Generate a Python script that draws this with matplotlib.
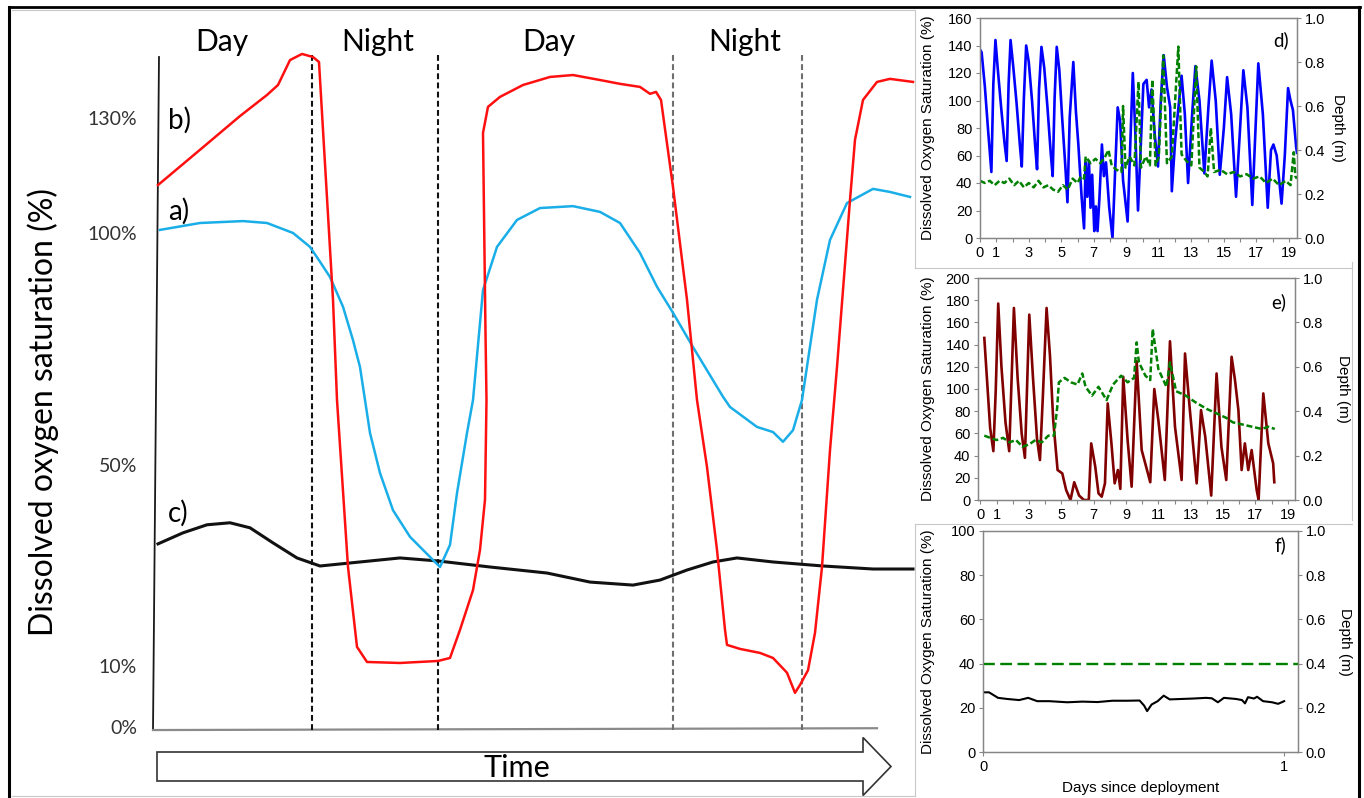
import numpy as np
import matplotlib
matplotlib.use('Agg')
import matplotlib.pyplot as plt
from matplotlib.lines import Line2D
from matplotlib.patches import FancyArrow
from matplotlib.ticker import FormatStrFormatter

W, H = 1364, 798
plt.rcParams['font.family'] = ['Liberation Sans', 'DejaVu Sans']
SKETCH_FONT = ['Lato', 'DejaVu Sans']
SPINE = '#868686'

# ---------------- schematic (left) ----------------
# time in arbitrary units, values in % saturation (hand-drawn schematic)
red_t = [0.0, 4.2, 8.2, 10.9, 12.0, 13.2, 14.4, 15.5, 16.1, 17.5,
         17.9, 19.0, 19.9, 20.9, 24.2, 28.0, 29.2, 30.2, 31.5, 32.2,
         32.7, 32.85, 32.75, 32.5, 33.0, 34.2, 36.5, 39.2, 41.5, 44.2,
         46.2, 48.2, 49.2, 49.8, 50.3, 51.5, 52.9, 53.9, 54.9, 55.9,
         56.7, 56.9, 58.2, 60.2, 61.5, 62.9, 63.7, 64.2, 65.0, 65.7,
         66.4, 67.2, 67.9, 69.2, 69.7, 70.5, 71.9, 73.2, 75.5]
red_pct = [112.5, 121.7, 130.5, 136.0, 138.6, 145.1, 146.7, 145.9, 144.6, 85.6,
           64.0, 29.7, 13.8, 10.8, 10.6, 11.0, 11.6, 17.2, 25.1, 33.1,
           43.1, 64.0, 78.4, 126.1, 132.9, 135.5, 138.6, 140.7, 141.2, 139.9,
           138.9, 138.1, 136.3, 136.8, 134.7, 112.0, 85.6, 64.0, 49.6, 33.1,
           17.2, 14.2, 13.4, 12.6, 11.6, 8.9, 5.6, 6.9, 9.3, 16.6,
           29.7, 53.2, 71.1, 108.6, 124.3, 134.7, 139.4, 140.2, 139.4]

blue_t = [0.2, 4.2, 8.5, 10.9, 13.5, 15.2, 16.2, 17.2, 18.5, 19.5, 20.2, 21.2,
          22.2, 23.5, 25.2, 27.2, 28.2, 29.2, 29.9, 30.9, 31.5, 32.5,
          33.9, 35.9, 38.2, 41.5, 44.2, 46.2, 48.2, 49.9, 51.5, 53.5,
          56.5, 57.2, 59.9, 61.5, 62.5, 63.5, 64.4, 65.9, 67.2, 68.9,
          71.5, 73.2, 75.2]
blue_pct = [100.8, 102.6, 103.1, 102.6, 100.0, 97.0, 93.8, 90.5, 84.1, 76.9, 71.1, 56.9,
            48.4, 41.0, 35.7, 31.7, 29.7, 34.1, 44.4, 56.9, 64.0, 87.7,
            97.0, 103.4, 106.5, 107.0, 105.5, 102.6, 95.7, 88.4, 82.8, 75.4,
            64.7, 62.5, 58.2, 57.1, 55.0, 57.5, 64.0, 85.6, 98.5, 107.8,
            111.5, 110.7, 109.4]

black_t = [0.0, 2.5, 4.9, 7.2, 9.2, 11.5, 13.9, 16.2, 19.2, 24.2, 28.0, 33.2,
           38.9, 43.2, 47.5, 50.2, 52.9, 55.5, 57.9, 61.5, 66.5, 71.5, 75.5]
black_pct = [34.3, 36.5, 38.1, 38.5, 37.5, 34.5, 31.5, 29.9, 30.5, 31.5, 30.9, 29.7,
             28.5, 26.7, 26.1, 27.1, 29.1, 30.7, 31.5, 30.7, 29.9, 29.3, 29.3]

night_start = [15.4, 51.5]
night_end = [28.0, 64.4]
period_x = [6.4, 22.0, 39.1, 58.7]
period_labels = ['Day', 'Night', 'Day', 'Night']
sketch_ticks = [0, 10, 50, 100, 130]
sketch_ticklabels = ['0%', '10%', '50%', '100%', '130%']

# the schematic's y axis is not linear: the drawn % ticks are unevenly spaced
scale_pct = np.array([-20, 0, 10, 50, 100, 130, 200])
scale_pos = np.array([-122, 0, 61, 262, 494, 609, 877.3])

# ---------------- d) ----------------
d_day = [0.00, 0.10, 0.30, 0.50, 0.70, 0.82, 0.95, 1.10, 1.30, 1.50,
         1.64, 1.76, 1.88, 2.05, 2.25, 2.45, 2.57, 2.70, 2.84, 3.00,
         3.20, 3.40, 3.51, 3.63, 3.78, 3.95, 4.15, 4.35, 4.47, 4.59,
         4.72, 4.88, 5.05, 5.25, 5.38, 5.52, 5.74, 5.90, 6.05, 6.25,
         6.40, 6.50, 6.60, 6.70, 6.80, 6.90, 7.03, 7.13, 7.23, 7.35,
         7.50, 7.62, 7.75, 7.95, 8.15, 8.30, 8.47, 8.62, 8.80, 9.08,
         9.25, 9.40, 9.55, 9.72, 9.90, 10.05, 10.25, 10.40, 10.55, 10.75,
         10.95, 11.12, 11.30, 11.50, 11.70, 11.80, 12.00, 12.40, 12.60, 12.80,
         13.05, 13.25, 13.50, 13.80, 14.05, 14.25, 14.50, 14.75, 15.00, 15.20,
         15.45, 15.75, 16.00, 16.20, 16.45, 16.75, 16.95, 17.12, 17.40, 17.70,
         17.90, 18.05, 18.25, 18.55, 18.75, 18.95, 19.10, 19.25, 19.45, 19.50]
d_do = [137, 135, 110, 78, 48, 112, 144, 122, 95, 70,
        56, 112, 144, 124, 98, 68, 52, 102, 140, 128,
        100, 66, 50, 108, 139, 124, 95, 62, 45, 102,
        139, 122, 88, 52, 26, 88, 128, 92, 68, 30,
        7, 55, 30, 56, 22, 46, 5, 23, 5, 30,
        68, 45, 55, 22, 0, 45, 95, 85, 42, 12,
        70, 120, 78, 20, 70, 112, 115, 95, 108, 75,
        52, 100, 133, 110, 95, 34, 70, 118, 90, 40,
        90, 125, 100, 47, 95, 129, 100, 46, 80, 117,
        90, 30, 80, 122, 95, 24, 80, 127, 90, 22,
        64, 68, 60, 25, 60, 109, 100, 93, 66, 62]
d_depth_day = [0.0, 0.3, 0.6, 0.9, 1.2, 1.5, 1.8, 2.1, 2.4, 2.7,
               3.0, 3.3, 3.6, 3.9, 4.2, 4.5, 4.8, 5.1, 5.4, 5.7,
               6.0, 6.2, 6.4, 6.5, 6.8, 7.1, 7.4, 7.7, 7.9, 8.1,
               8.4, 8.7, 8.8, 8.95, 9.2, 9.5, 9.75, 9.9, 10.2, 10.45,
               10.6, 10.8, 11.0, 11.27, 11.5, 11.8, 12.2, 12.4, 12.7, 13.0,
               13.3, 13.5, 13.8, 14.0, 14.2, 14.4, 14.8, 15.2, 15.6, 16.0,
               16.4, 16.8, 17.2, 17.6, 18.0, 18.4, 18.8, 19.1, 19.3, 19.4, 19.5]
d_depth = [0.26, 0.25, 0.26, 0.24, 0.26, 0.25, 0.27, 0.24, 0.26, 0.23,
           0.25, 0.23, 0.26, 0.23, 0.24, 0.22, 0.21, 0.24, 0.22, 0.27,
           0.25, 0.28, 0.27, 0.37, 0.34, 0.36, 0.34, 0.37, 0.40, 0.33,
           0.31, 0.30, 0.60, 0.32, 0.37, 0.33, 0.71, 0.32, 0.37, 0.33,
           0.72, 0.33, 0.37, 0.83, 0.34, 0.37, 0.87, 0.38, 0.35, 0.33,
           0.78, 0.32, 0.30, 0.28, 0.50, 0.30, 0.31, 0.29, 0.30, 0.28,
           0.29, 0.27, 0.28, 0.25, 0.27, 0.24, 0.26, 0.24, 0.39, 0.28, 0.27]

# ---------------- e) ----------------
e_day = [0.24, 0.4, 0.6, 0.8, 0.95, 1.1, 1.3, 1.55, 1.78, 1.93,
         2.07, 2.3, 2.55, 2.75, 2.88, 3.02, 3.25, 3.5, 3.68, 3.85,
         4.09, 4.3, 4.5, 4.77, 5.06, 5.3, 5.57, 5.8, 6.1, 6.4,
         6.7, 6.85, 7.1, 7.3, 7.5, 7.7, 7.87, 8.1, 8.3, 8.5,
         8.65, 8.83, 9.1, 9.35, 9.66, 9.97, 10.3, 10.5, 10.75, 11.0,
         11.4, 11.72, 12.03, 12.44, 12.65, 12.95, 13.37, 13.64, 13.9, 14.27,
         14.6, 14.9, 15.2, 15.53, 15.74, 15.95, 16.15, 16.35, 16.56, 16.77,
         17.08, 17.2, 17.49, 17.8, 18.1, 18.17]
e_do = [146, 110, 65, 44, 100, 177, 120, 70, 44, 110,
        173, 110, 60, 38, 100, 167, 110, 55, 36, 90,
        173, 130, 72, 27, 24, 9, 0, 16, 4, 0,
        0, 51, 30, 6, 3, 15, 87, 51, 15, 27,
        10, 111, 54, 12, 125, 45, 27, 16, 100, 72,
        18, 143, 66, 18, 132, 81, 15, 81, 57, 4,
        114, 48, 18, 129, 108, 81, 27, 51, 27, 45,
        9, 0, 96, 51, 33, 16]
e_depth_day = [0.24, 0.6, 1.0, 1.4, 1.8, 2.2, 2.6, 3.0, 3.4, 3.8,
               4.2, 4.55, 4.75, 4.85, 5.2, 5.6, 6.0, 6.3, 6.5, 6.9,
               7.3, 7.8, 8.2, 8.7, 9.1, 9.5, 9.66, 9.8, 10.2, 10.5,
               10.65, 11.0, 11.5, 11.72, 12.1, 12.7, 13.3, 14.0, 14.6, 15.2,
               15.6, 16.2, 16.8, 17.4, 17.8, 18.2]
e_depth = [0.29, 0.28, 0.27, 0.28, 0.26, 0.27, 0.24, 0.25, 0.27, 0.26,
           0.29, 0.29, 0.42, 0.53, 0.55, 0.53, 0.52, 0.57, 0.51, 0.47,
           0.51, 0.45, 0.52, 0.56, 0.53, 0.55, 0.71, 0.62, 0.56, 0.54,
           0.77, 0.59, 0.51, 0.62, 0.49, 0.47, 0.44, 0.41, 0.39, 0.37,
           0.35, 0.34, 0.33, 0.32, 0.33, 0.32]

# ---------------- f) ----------------
f_day = [0, 0.02, 0.05, 0.08, 0.12, 0.15, 0.18, 0.22, 0.28, 0.33,
         0.38, 0.43, 0.48, 0.52, 0.535, 0.545, 0.56, 0.58, 0.6, 0.62,
         0.66, 0.7, 0.74, 0.76, 0.78, 0.8, 0.84, 0.86, 0.87, 0.88,
         0.9, 0.91, 0.93, 0.96, 0.98, 1.0]
f_do = [27, 27, 24.5, 24, 23.5, 24.5, 23, 23, 22.5, 22.8,
        22.6, 23.2, 23.2, 23.3, 21, 18.5, 21.5, 23, 25.5, 23.8,
        24, 24.2, 24.5, 24.3, 22.5, 24.5, 24, 23.5, 22, 24.8,
        24.2, 25, 23, 22.5, 21.8, 23]
f_depth_day = [0, 1.046]
f_depth = [0.4, 0.4]


def rect(left, top, right, bottom):
    return [left / W, 1 - bottom / H, (right - left) / W, (bottom - top) / H]


fig = plt.figure(figsize=(W / 100, H / 100), dpi=100)

# ---- left schematic ----
ax0 = fig.add_axes(rect(148, 41.3, 918, 733.1))
ax0.set_yscale('function', functions=(lambda v: np.interp(v, scale_pct, scale_pos),
                                      lambda p: np.interp(p, scale_pos, scale_pct)))
ax0.set_xlim(-1, 76)
ax0.set_ylim(-1, 150)
for s in ax0.spines.values():
    s.set_visible(False)
ax0.set_xticks([])
ax0.set_yticks(sketch_ticks, sketch_ticklabels)
ax0.tick_params(which='both', length=0, pad=8, labelsize=14, labelcolor='#333333')
for lab in ax0.get_yticklabels():
    lab.set_family(SKETCH_FONT)

# axes lines of the sketch
ax0.plot([0.1, -0.5], [145.9, -0.5], color='#1a1a1a', lw=1.3)
ax0.plot([-0.5, 71.9], [-0.5, -0.2], color='#8a8a8a', lw=1.6)
ax0.vlines(night_start[:1] + night_end[:1], -0.5, 147.2, colors='#111111',
           linestyles=(0, (2.8, 1.6)), lw=1.5)
ax0.vlines(night_start[1:] + night_end[1:], -0.5, 146.4, colors='#6e6e6e',
           linestyles=(0, (2.8, 1.6)), lw=1.5)

ax0.plot(black_t, black_pct, color='#111111', lw=2.2, solid_joinstyle='round')
ax0.plot(blue_t, blue_pct, color='#1aaee8', lw=1.8, solid_joinstyle='round')
ax0.plot(red_t, red_pct, color='#ff1010', lw=1.8, solid_joinstyle='round')

for x, lab in zip(period_x, period_labels):
    ax0.text(x, 149.8, lab, ha='center', va='center', fontsize=21.5,
             family=SKETCH_FONT, clip_on=False)
ax0.text(2.1, 129.5, 'b)', ha='center', va='center', fontsize=20, family=SKETCH_FONT)
ax0.text(2.1, 105.7, 'a)', ha='center', va='center', fontsize=20, family=SKETCH_FONT)
ax0.text(2.0, 40.4, 'c)', ha='center', va='center', fontsize=20, family=SKETCH_FONT)

fig.text(43 / W, 1 - 412 / H, 'Dissolved oxygen saturation (%)', rotation=90,
         ha='center', va='center', fontsize=23, family=SKETCH_FONT)

# time arrow
arrow = FancyArrow(157 / W, 1 - 766.5 / H, (891 - 157) / W, 0, width=29 / H,
                   head_width=58 / H, head_length=28 / W, length_includes_head=True,
                   transform=fig.transFigure, facecolor='white', edgecolor='#333333',
                   lw=1.2)
fig.add_artist(arrow)
fig.text(517 / W, 1 - 768 / H, 'Time', ha='center', va='center', fontsize=22,
         family=SKETCH_FONT)


# ---- right panels ----
def panel(r, xlim, ymax, xticks, xticklabels, tag, tag_xy, ylab_x, dlab_x):
    ax = fig.add_axes(r)
    ax.set_xlim(*xlim)
    ax.set_ylim(0, ymax)
    ax.set_yticks(np.arange(0, ymax + 1, 20))
    ax.set_xticks(xticks, xticklabels)
    ax2 = ax.twinx()
    ax2.set_ylim(0, 1)
    ax2.set_yticks(np.arange(0, 1.01, 0.2))
    ax2.yaxis.set_major_formatter(FormatStrFormatter('%.1f'))
    for a in (ax, ax2):
        for s in a.spines.values():
            s.set_color(SPINE)
            s.set_linewidth(0.9)
        a.tick_params(colors=SPINE, labelcolor='black', labelsize=10.5,
                      length=3, width=0.8, direction='out', pad=2.5)
    ax.set_ylabel('Dissolved Oxygen Saturation (%)', fontsize=11, va='center')
    ax.yaxis.set_label_coords(ylab_x, 0.5)
    ax2.set_ylabel('Depth (m)', fontsize=11, rotation=270, va='center')
    ax2.yaxis.set_label_coords(dlab_x, 0.5)
    ax2.text(tag_xy[0], tag_xy[1], tag, transform=ax2.transAxes, ha='center',
             va='center', fontsize=13.5, family=SKETCH_FONT)
    return ax, ax2


day_ticks = list(range(20))
day_labels = [str(d) if (d == 0 or d % 2 == 1) else '' for d in day_ticks]

axd, axd2 = panel(rect(980, 18, 1297, 238), (0, 19.5), 160, day_ticks, day_labels,
                  'd)', (0.95, 0.9), -0.164, 1.129)
axd.plot(d_day, d_do, color='#0000ff', lw=1.9)
axd2.plot(d_depth_day, d_depth, color='#008000', lw=1.8, dashes=(2.4, 1.1))

axe, axe2 = panel(rect(978, 278, 1295, 500), (-0.15, 19.45), 200, day_ticks, day_labels,
                  'e)', (0.95, 0.89), -0.158, 1.151)
axe.plot(e_day, e_do, color='#800000', lw=1.9)
axe2.plot(e_depth_day, e_depth, color='#008000', lw=1.8, dashes=(2.4, 1.1))

axf, axf2 = panel(rect(983, 531, 1298, 752), (0, 1.046), 100, [0, 1], ['0', '1'],
                  'f)', (0.943, 0.937), -0.175, 1.149)
axf.plot(f_day, f_do, color='black', lw=1.5)
axf2.plot(f_depth_day, f_depth, color='#008000', lw=1.7, dashes=(5, 2.3))
axf.set_xlabel('Days since deployment', fontsize=11, va='center')
axf.xaxis.set_label_coords(0.5, -0.163)


# ---- frame lines ----
def fline(xs, ys, color, lw):
    fig.add_artist(Line2D([x / W for x in xs], [1 - y / H for y in ys],
                          transform=fig.transFigure, color=color, lw=lw))


fline([9, 1360], [7, 7], 'black', 2.0)
fline([9, 9], [7, 798], 'black', 2.2)
fline([1359, 1359], [7, 798], 'black', 2.2)
GRAY = '#c8c8c8'
fline([12, 915], [10, 10], GRAY, 0.8)
fline([915, 915], [10, 268], GRAY, 0.8)
fline([915, 1352], [268, 268], GRAY, 0.8)
fline([1352, 1352], [262, 520], GRAY, 0.8)
fline([915, 1352], [524, 524], GRAY, 0.8)
fline([915, 915], [524, 796], GRAY, 0.8)
fline([12, 915], [796, 796], GRAY, 0.8)

fig.savefig('out.png', dpi=100)
